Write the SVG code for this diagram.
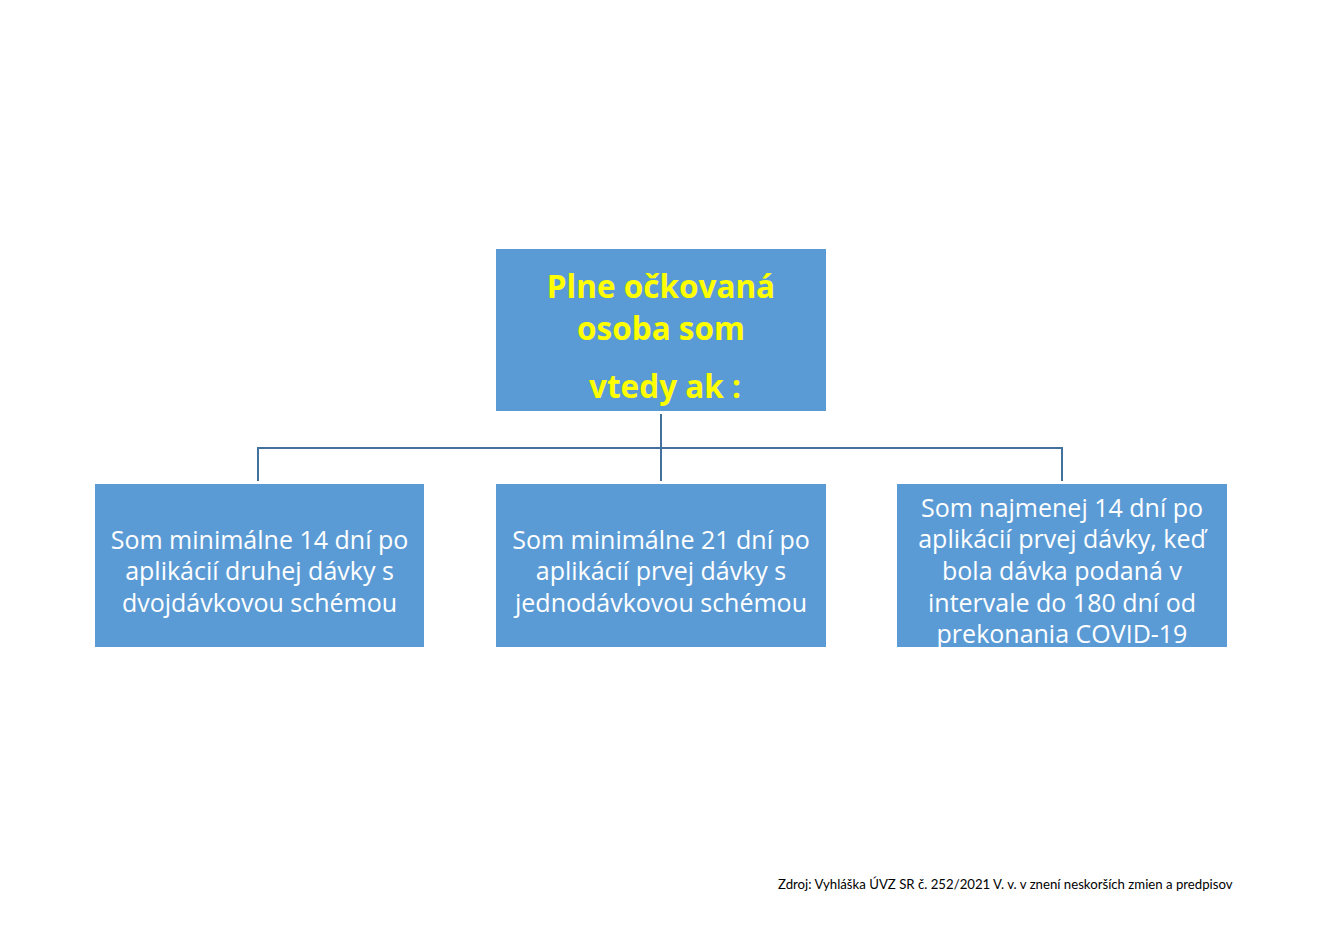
<svg xmlns="http://www.w3.org/2000/svg" width="1344" height="950" viewBox="0 0 1344 950">
<style>
.box{fill:#5B9BD5;}
.ttl{font-family:"Open Sans",Lato,sans-serif;font-weight:bold;font-size:31.5px;fill:#FFFF00;text-anchor:middle;}
.txt{font-family:"Open Sans",Lato,sans-serif;font-size:25px;fill:#FFFFFF;text-anchor:middle;}
.con{stroke:#41719C;stroke-width:2;fill:none;}
.src{font-family:Lato,"Open Sans",sans-serif;font-size:13.2px;fill:#000000;}
</style>
<rect width="1344" height="950" fill="#FFFFFF"/>
<g id="connectors">
<path class="con" d="M661 414 V448 M258 481 V448 H1062 V481 M661 448 V481"/>
</g>
<g id="root">
<rect class="box" x="496" y="249" width="330" height="162"/>
<text class="ttl" x="661" y="298">Plne očkovaná</text>
<text class="ttl" x="661" y="340">osoba som</text>
<text class="ttl" x="665" y="398">vtedy ak :</text>
</g>
<g id="n1">
<rect class="box" x="95" y="484" width="329" height="163"/>
<text class="txt" x="259.5" y="549">Som minimálne 14 dní po</text>
<text class="txt" x="259.5" y="580">aplikácií druhej dávky s</text>
<text class="txt" x="259.5" y="612">dvojdávkovou schémou</text>
</g>
<g id="n2">
<rect class="box" x="496" y="484" width="330" height="163"/>
<text class="txt" x="661" y="549">Som minimálne 21 dní po</text>
<text class="txt" x="661" y="580">aplikácií prvej dávky s</text>
<text class="txt" x="661" y="612">jednodávkovou schémou</text>
</g>
<g id="n3">
<rect class="box" x="897" y="484" width="330" height="163"/>
<text class="txt" x="1062" y="517">Som najmenej 14 dní po</text>
<text class="txt" x="1062" y="548">aplikácií prvej dávky, keď</text>
<text class="txt" x="1062" y="580">bola dávka podaná v</text>
<text class="txt" x="1062" y="612">intervale do 180 dní od</text>
<text class="txt" x="1062" y="643">prekonania COVID-19</text>
</g>
<g id="source">
<text class="src" x="778" y="889">Zdroj: Vyhláška ÚVZ SR č. 252/2021 V. v. v znení neskorších zmien a predpisov</text>
</g>
</svg>
